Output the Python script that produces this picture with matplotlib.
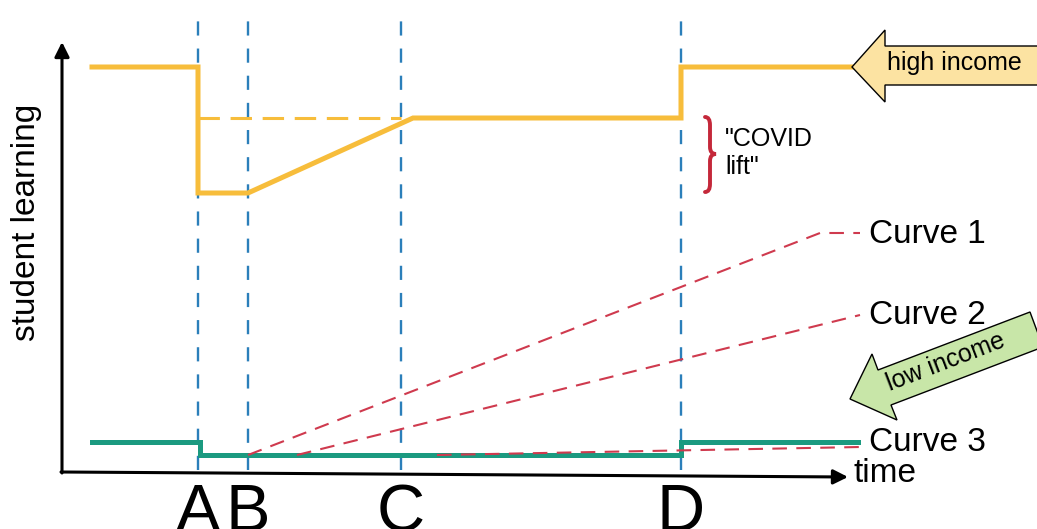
import matplotlib
matplotlib.use('Agg')
import matplotlib.pyplot as plt
from matplotlib.patches import Polygon, PathPatch
from matplotlib.path import Path

plt.rcParams['font.family'] = ['Liberation Sans', 'DejaVu Sans']

# sketch coordinates: x = time, y = student learning (arbitrary units)
event_labels = ['A', 'B', 'C', 'D']
event_x = [198, 248, 401, 681]

high_x = [92, 198, 198, 248, 413, 681, 681, 852]
high_y = [462, 462, 336, 336, 411, 411, 462, 462]
high_ref_x = [198, 401]
high_ref_y = [411, 411]

low_x = [92, 200, 200, 681, 681, 858]
low_y = [87, 87, 74, 74, 87, 87]

curve_names = ['Curve 1', 'Curve 2', 'Curve 3']
curve_x = [[248, 820, 860], [297, 860], [437, 860]]
curve_y = [[74, 296, 296], [74, 214], [74, 82]]
curve_label_y = [286, 205, 78]

yellow = '#f7bd3b'
teal = '#1b9a80'
blue = '#2b7fba'
red = '#cf3a4e'

fig = plt.figure(figsize=(10.37, 5.29), dpi=100)
ax = fig.add_axes([0, 0, 1, 1])
ax.set_xlim(0, 1037)
ax.set_ylim(0, 529)
ax.axis('off')

# axes arrows
ax.annotate('', xy=(62, 487), xytext=(62, 56),
            arrowprops=dict(arrowstyle='-|>', lw=2.2, color='black', mutation_scale=22,
                            shrinkA=0, shrinkB=0))
ax.annotate('', xy=(848, 52), xytext=(61, 57),
            arrowprops=dict(arrowstyle='-|>', lw=2.2, color='black', mutation_scale=22,
                            shrinkA=0, shrinkB=0))
ax.text(853, 47, 'time', fontsize=24, ha='left', va='baseline')
ax.text(27, 307, 'student learning', fontsize=24, rotation=90, ha='center', va='center')

# event lines
for lab, x in zip(event_labels, event_x):
    ax.plot([x, x], [59, 514], color=blue, lw=1.7, dashes=(6, 5.5), zorder=1)
    ax.text(x, -2, lab, fontsize=48, ha='center', va='baseline', clip_on=False)

# high income
ax.plot(high_ref_x, high_ref_y, color=yellow, lw=2.2, dashes=(7, 3.5), zorder=2)
ax.plot(high_x, high_y, color=yellow, lw=3.6, solid_joinstyle='miter', zorder=3)

# low income + curves
ax.plot(low_x, low_y, color=teal, lw=3.6, solid_joinstyle='miter', zorder=3)
for name, cx, cy, ly in zip(curve_names, curve_x, curve_y, curve_label_y):
    ax.plot(cx, cy, color=red, lw=1.5, dashes=(7, 4.5), zorder=4)
    ax.text(869, ly, name, fontsize=24, ha='left', va='baseline')

# "COVID lift" brace
brace = Path([(705, 412), (710, 412), (710, 404), (710, 382), (710, 375), (716, 375),
              (710, 375), (710, 368), (710, 345), (710, 337), (705, 337)],
             [Path.MOVETO, Path.CURVE3, Path.CURVE3, Path.LINETO, Path.CURVE3, Path.CURVE3,
              Path.CURVE3, Path.CURVE3, Path.LINETO, Path.CURVE3, Path.CURVE3])
ax.add_patch(PathPatch(brace, fill=False, edgecolor='#c4283a', lw=2.8, capstyle='round'))
ax.text(725, 383, '"COVID', fontsize=18, ha='left', va='baseline')
ax.text(725, 355, 'lift"', fontsize=18, ha='left', va='baseline')

# callout arrows
high_arrow = [(852, 462), (885, 499), (885, 483), (1045, 483), (1045, 444), (885, 444), (885, 427)]
ax.add_patch(Polygon(high_arrow, closed=True, facecolor='#fce3a2', edgecolor='black',
                     lw=1.0, zorder=5, clip_on=False))
ax.text(887, 459, 'high income', fontsize=18, ha='left', va='baseline', zorder=6)

low_arrow = [(850, 130), (872, 175), (878, 159), (1030, 217), (1043, 182), (891, 124), (897, 109)]
ax.add_patch(Polygon(low_arrow, closed=True, facecolor='#c8e6a8', edgecolor='black',
                     lw=1.0, zorder=5, clip_on=False))
ax.text(946, 167, 'low income', fontsize=18, rotation=21, ha='center', va='center',
        rotation_mode='anchor', zorder=6)

fig.savefig('out.png', dpi=100)
